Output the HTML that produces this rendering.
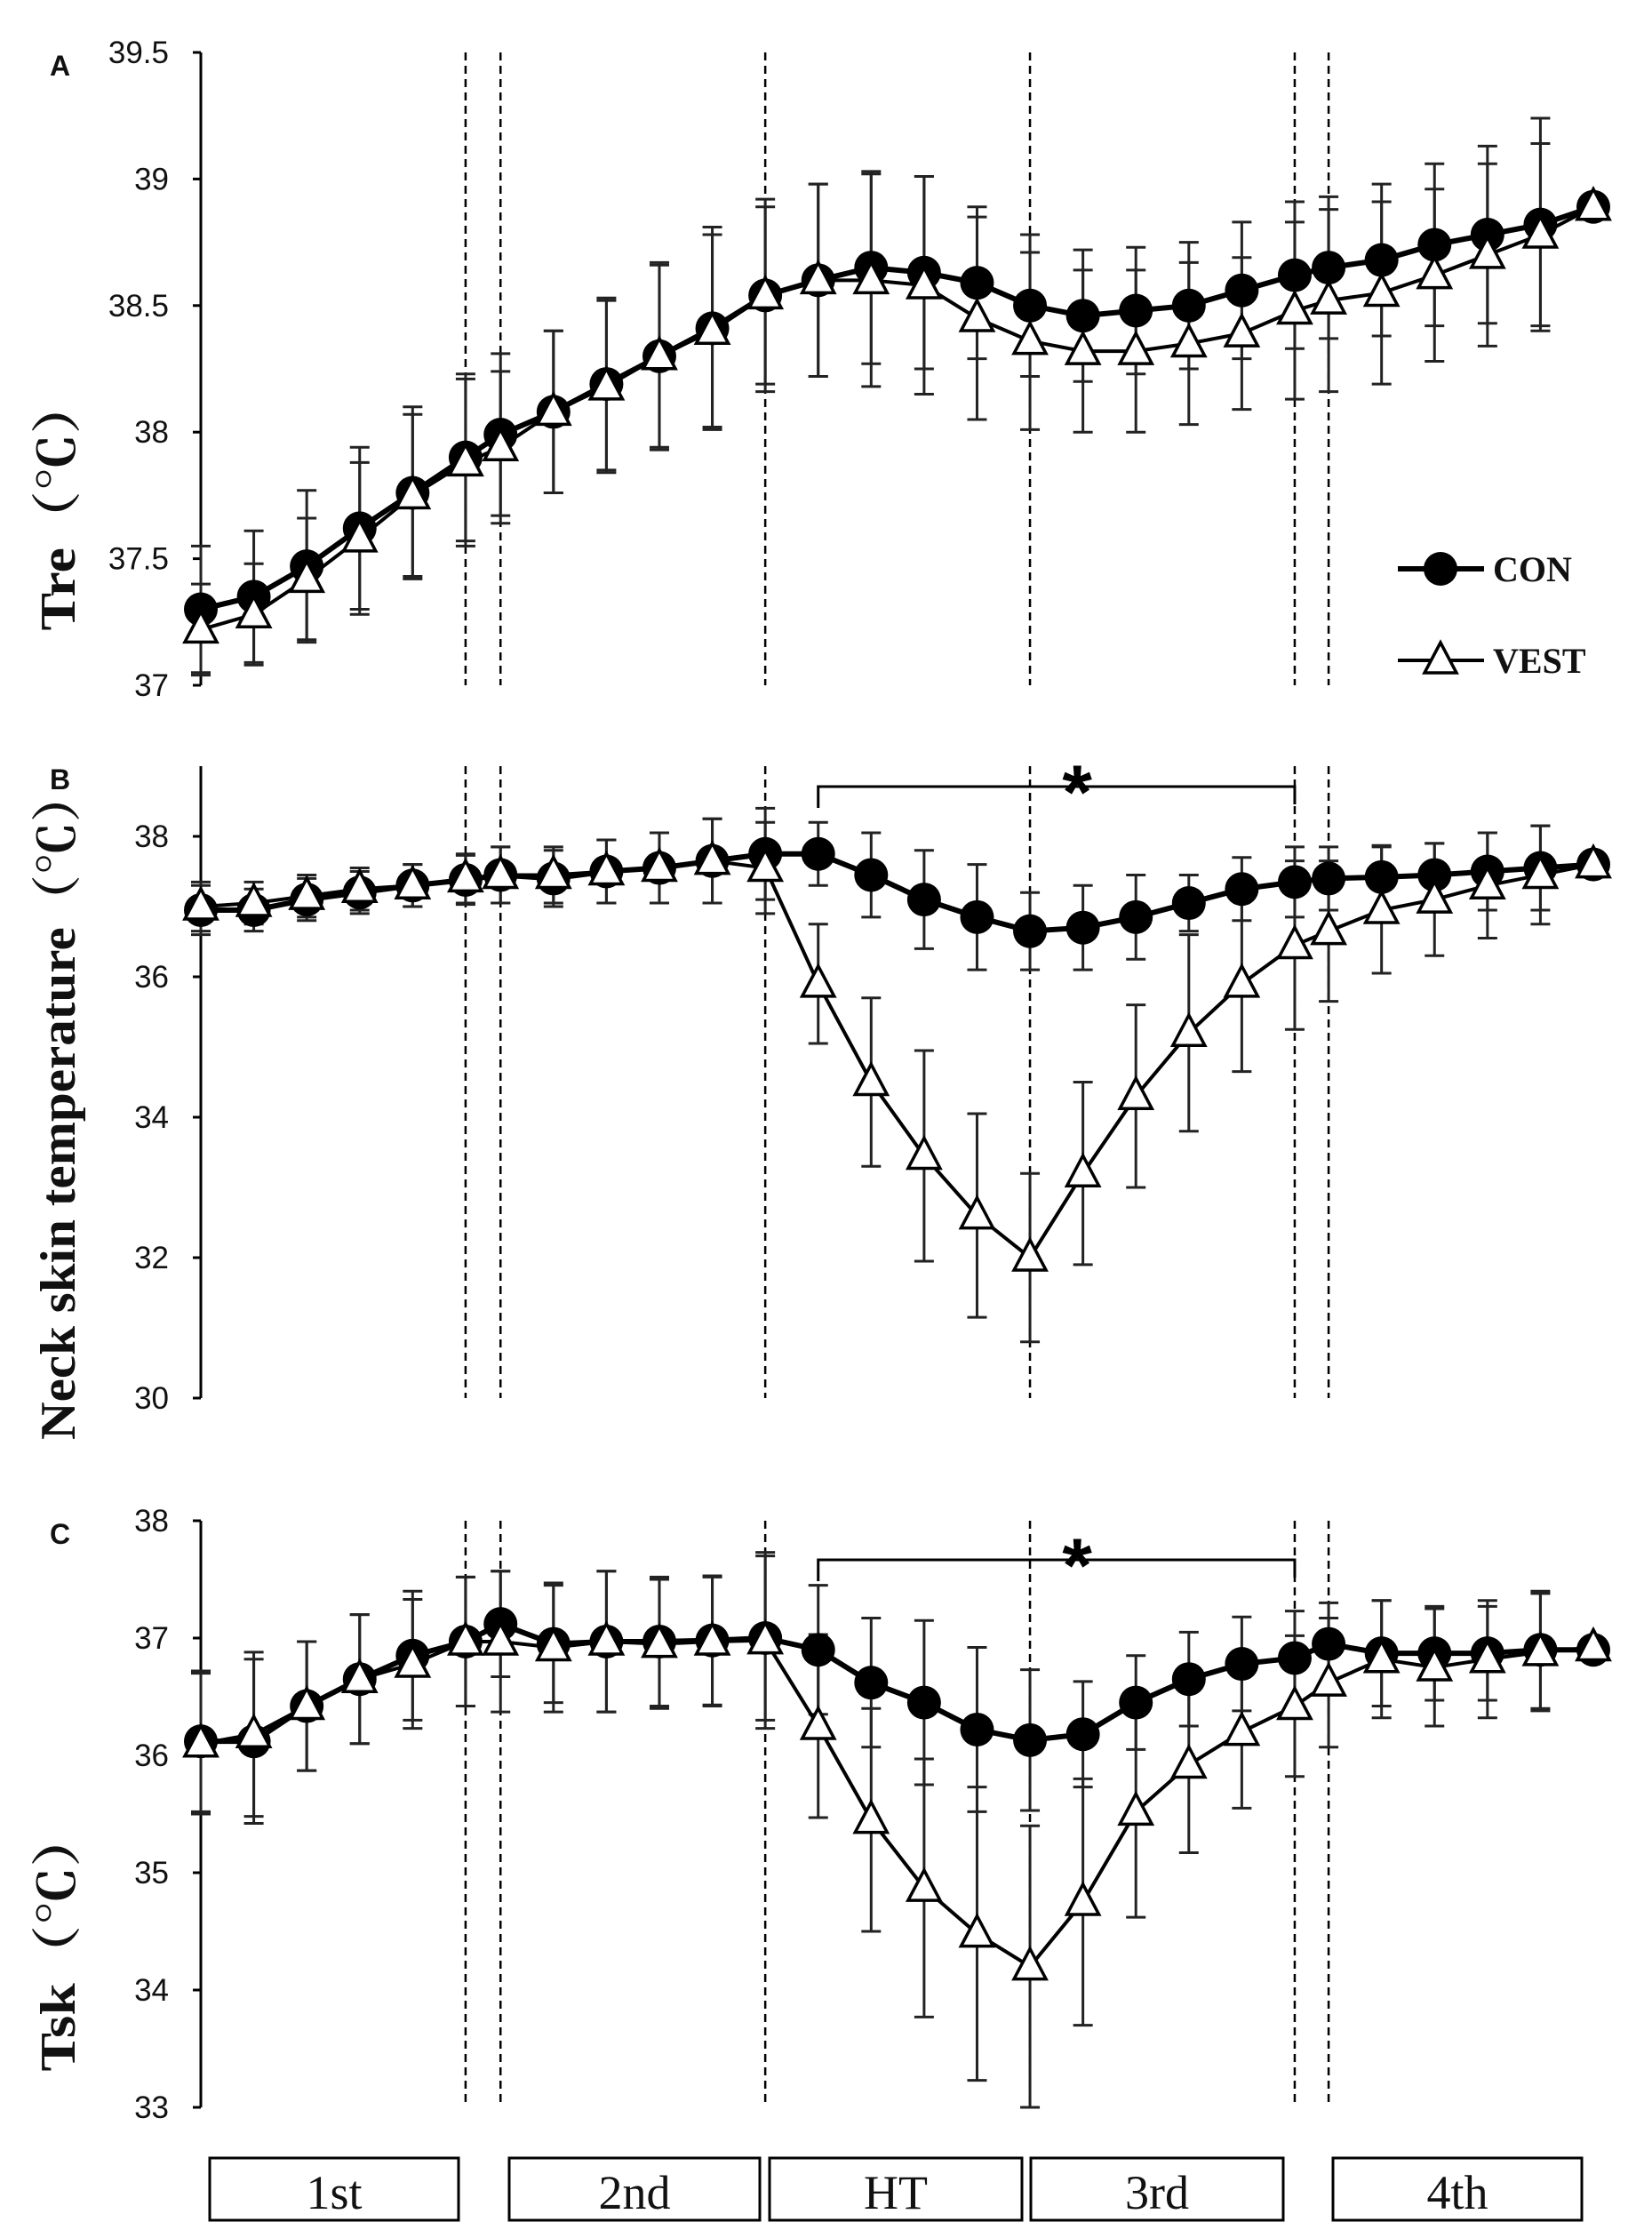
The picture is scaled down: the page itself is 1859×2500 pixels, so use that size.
<!DOCTYPE html>
<html><head><meta charset="utf-8"><style>
html,body{margin:0;padding:0;background:#fff}
svg{display:block}
.tick{font-family:"Liberation Sans",sans-serif;font-size:35px;fill:#111}
.ylab{font-family:"Liberation Serif","Noto Serif CJK SC",serif;font-weight:bold;font-size:56px;fill:#111}
.plet{font-family:"Liberation Sans",sans-serif;font-weight:bold;font-size:32px;fill:#111}
.leg{font-family:"Liberation Serif",serif;font-weight:bold;font-size:40px;fill:#111}
.box{font-family:"Liberation Serif",serif;font-size:54px;fill:#111}
</style></head><body>
<svg id="chart" width="1859" height="2500" viewBox="0 0 1859 2500" xmlns="http://www.w3.org/2000/svg"></svg>
<script>
const times=[0,1,2,3,4,5,5.66,6.66,7.66,8.66,9.66,10.66,11.66,12.66,13.66,14.66,15.66,16.66,17.66,18.66,19.66,20.66,21.3,22.3,23.3,24.3,25.3,26.3];
const phaseLines=[5,5.66,10.66,15.66,20.66,21.3];
const phaseLabels=["1st","2nd","HT","3rd","4th"];
const aCon=[37.3,37.35,37.47,37.62,37.76,37.9,37.99,38.08,38.19,38.3,38.41,38.54,38.6,38.65,38.63,38.59,38.5,38.46,38.48,38.5,38.56,38.62,38.65,38.68,38.74,38.78,38.82,38.89];
const aVest=[37.22,37.28,37.42,37.58,37.75,37.88,37.94,38.08,38.18,38.3,38.4,38.54,38.6,38.6,38.58,38.45,38.36,38.32,38.32,38.35,38.39,38.48,38.52,38.55,38.62,38.7,38.78,38.89];
const aConSd=[0.25,0.26,0.3,0.32,0.34,0.33,0.32,0.32,0.34,0.37,0.4,0.38,0.38,0.38,0.38,0.3,0.28,0.26,0.25,0.25,0.27,0.29,0.28,0.3,0.32,0.35,0.42,0];
const aVestSd=[0.18,0.2,0.24,0.3,0.32,0.33,0.3,0.32,0.34,0.36,0.38,0.35,0.38,0.42,0.43,0.4,0.35,0.32,0.32,0.32,0.3,0.35,0.36,0.36,0.34,0.36,0.36,0];
const bCon=[36.95,36.95,37.1,37.2,37.3,37.38,37.45,37.4,37.5,37.55,37.65,37.75,37.75,37.45,37.1,36.85,36.65,36.7,36.85,37.05,37.25,37.35,37.4,37.42,37.45,37.5,37.55,37.6];
const bVest=[37.0,37.05,37.15,37.25,37.3,37.4,37.45,37.45,37.5,37.55,37.65,37.55,35.9,34.5,33.45,32.6,32.0,33.2,34.3,35.2,35.9,36.45,36.65,36.95,37.1,37.3,37.45,37.6];
const bConSd=[0.35,0.3,0.3,0.3,0.3,0.35,0.4,0.4,0.45,0.5,0.6,0.65,0.45,0.6,0.7,0.75,0.55,0.6,0.6,0.4,0.45,0.5,0.45,0.45,0.45,0.55,0.6,0];
const bVestSd=[0.35,0.3,0.3,0.3,0.3,0.35,0.4,0.4,0.45,0.5,0.6,0.65,0.85,1.2,1.5,1.45,1.2,1.3,1.3,1.4,1.25,1.2,1.0,0.9,0.8,0.75,0.7,0];
const cCon=[36.12,36.12,36.42,36.65,36.85,36.97,37.12,36.95,36.97,36.97,36.98,37.0,36.9,36.62,36.45,36.22,36.13,36.18,36.45,36.65,36.78,36.83,36.95,36.87,36.87,36.87,36.9,36.9];
const cVest=[36.1,36.18,36.42,36.65,36.78,36.97,36.97,36.92,36.97,36.95,36.97,36.98,36.25,35.45,34.87,34.48,34.2,34.75,35.52,35.92,36.2,36.42,36.62,36.82,36.75,36.82,36.88,36.92];
const cConSd=[0.6,0.7,0.55,0.55,0.55,0.55,0.45,0.5,0.6,0.55,0.55,0.7,0.55,0.55,0.7,0.7,0.6,0.45,0.4,0.4,0.4,0.4,0.35,0.45,0.4,0.4,0.5,0];
const cVestSd=[0.6,0.7,0.55,0.55,0.55,0.55,0.6,0.55,0.6,0.55,0.55,0.75,0.78,0.95,1.1,1.25,1.2,1.05,0.9,0.75,0.65,0.6,0.55,0.5,0.5,0.5,0.5,0];
const aTicks=[37,37.5,38,38.5,39,39.5];
const bTicks=[30,32,34,36,38];
const cTicks=[33,34,35,36,37,38];

const NS="http://www.w3.org/2000/svg";
const svg=document.getElementById("chart");
const X0=226,X1=1793,TMAX=26.3;
const xs=t=>X0+t/TMAX*(X1-X0);
function el(tag,attrs,parent){const e=document.createElementNS(NS,tag);for(const k in attrs)e.setAttribute(k,attrs[k]);(parent||svg).appendChild(e);return e;}

const panels=[
 {key:"a",letter:"A",label:"Tre（℃）",lc:567,ll:285,ymin:37,ymax:39.5,ptop:59,pbot:771,ticks:aTicks,con:aCon,vest:aVest,cs:aConSd,vs:aVestSd,legend:true},
 {key:"b",letter:"B",label:"Neck skin temperature（℃）",lc:1243,ll:754,ymin:30,ymax:39,ptop:862,pbot:1573,ticks:bTicks,con:bCon,vest:bVest,cs:bConSd,vs:bVestSd,star:885},
 {key:"c",letter:"C",label:"Tsk（℃）",lc:2183,ll:295,ymin:33,ymax:38,ptop:1711,pbot:2371,ticks:cTicks,con:cCon,vest:cVest,cs:cConSd,vs:cVestSd,star:1755}
];
panels.forEach(p=>{
 const ys=v=>p.pbot-(v-p.ymin)/(p.ymax-p.ymin)*(p.pbot-p.ptop);
 const g=el("g",{});
 
 
 const ax=el("line",{x1:X0,y1:p.ptop,x2:X0,y2:p.pbot,stroke:"#000","stroke-width":3},g);
 
 
 p.ticks.forEach(v=>{
  el("line",{x1:X0-9,y1:ys(v),x2:X0,y2:ys(v),stroke:"#000","stroke-width":3},g);
  const t=el("text",{x:190,y:ys(v)+12,"text-anchor":"end",class:"tick"},g);
  t.textContent=String(v);
  
  
 });
 const lt=el("text",{x:56,y:p.ptop+26,class:"plet"},g);lt.textContent=p.letter;
 
 
 const yl=el("text",{x:0,y:0,class:"ylab","text-anchor":"middle",textLength:p.ll,lengthAdjust:"spacingAndGlyphs",transform:`translate(84,${p.lc}) rotate(-90)`},g);
 yl.textContent=p.label;
 
 
 phaseLines.forEach(t=>{
  const d=el("line",{x1:xs(t),y1:p.ptop,x2:xs(t),y2:p.pbot,stroke:"#000","stroke-width":2.5,"stroke-dasharray":"9,6"},g);
  
  
 });
 if(p.star){
  const x1=xs(11.66),x2=xs(20.66);
  el("path",{d:`M${x1},${p.star+24} V${p.star} H${x2} V${p.star+20}`,fill:"none",stroke:"#000","stroke-width":3},g);
  const s=el("text",{x:xs(16.55),y:p.star+36,"text-anchor":"middle",style:"font-family:'Liberation Sans',sans-serif;font-size:86px;font-weight:bold"},g);
  s.textContent="*";
  
  
 }
 [[p.vest,p.vs],[p.con,p.cs]].forEach(([vals,sd])=>{
  vals.forEach((v,i)=>{
   if(!sd[i])return;
   const x=xs(times[i]),yt=ys(v+sd[i]),yb=ys(v-sd[i]);
   el("line",{x1:x,y1:yt,x2:x,y2:yb,stroke:"#222","stroke-width":3},g);
   el("line",{x1:x-11,y1:yt,x2:x+11,y2:yt,stroke:"#222","stroke-width":3},g);
   el("line",{x1:x-11,y1:yb,x2:x+11,y2:yb,stroke:"#222","stroke-width":3},g);
  });
 });
 const cl=el("polyline",{points:p.con.map((v,i)=>xs(times[i])+","+ys(v)).join(" "),fill:"none",stroke:"#000","stroke-width":6},g);
 
 
 const vl=el("polyline",{points:p.vest.map((v,i)=>xs(times[i])+","+ys(v)).join(" "),fill:"none",stroke:"#000","stroke-width":4},g);
 
 
 p.con.forEach((v,i)=>{
  const c=el("circle",{cx:xs(times[i]),cy:ys(v),r:19,fill:"#000"},g);
  
  
 });
 p.vest.forEach((v,i)=>{
  const x=xs(times[i]),y=ys(v);
  const tr=el("polygon",{points:`${x},${y-20} ${x-18},${y+14} ${x+18},${y+14}`,fill:"#fff",stroke:"#000","stroke-width":3.5},g);
  
  
 });
 if(p.legend){
  const lg=el("g",{},g);
  
  
  el("line",{x1:1573,y1:640,x2:1670,y2:640,stroke:"#000","stroke-width":6},lg);
  el("circle",{cx:1621,cy:640,r:19,fill:"#000"},lg);
  const t1=el("text",{x:1680,y:654,class:"leg"},lg);t1.textContent="CON";
  el("line",{x1:1573,y1:743,x2:1670,y2:743,stroke:"#000","stroke-width":4},lg);
  el("polygon",{points:"1621,723 1603,757 1639,757",fill:"#fff",stroke:"#000","stroke-width":3.5},lg);
  const t2=el("text",{x:1680,y:757,class:"leg"},lg);t2.textContent="VEST";
 }
});
const boxes=[[236,516],[573,855],[866,1150],[1160,1444],[1500,1780]];
phaseLabels.forEach((lab,i)=>{
 const [a,b]=boxes[i];
 const r=el("rect",{x:a,y:2428,width:b-a,height:70,fill:"#fff",stroke:"#000","stroke-width":3});
 
 
 const t=el("text",{x:(a+b)/2,y:2485,"text-anchor":"middle",class:"box"});
 t.textContent=lab;
 
 
});
</script>
</body></html>
